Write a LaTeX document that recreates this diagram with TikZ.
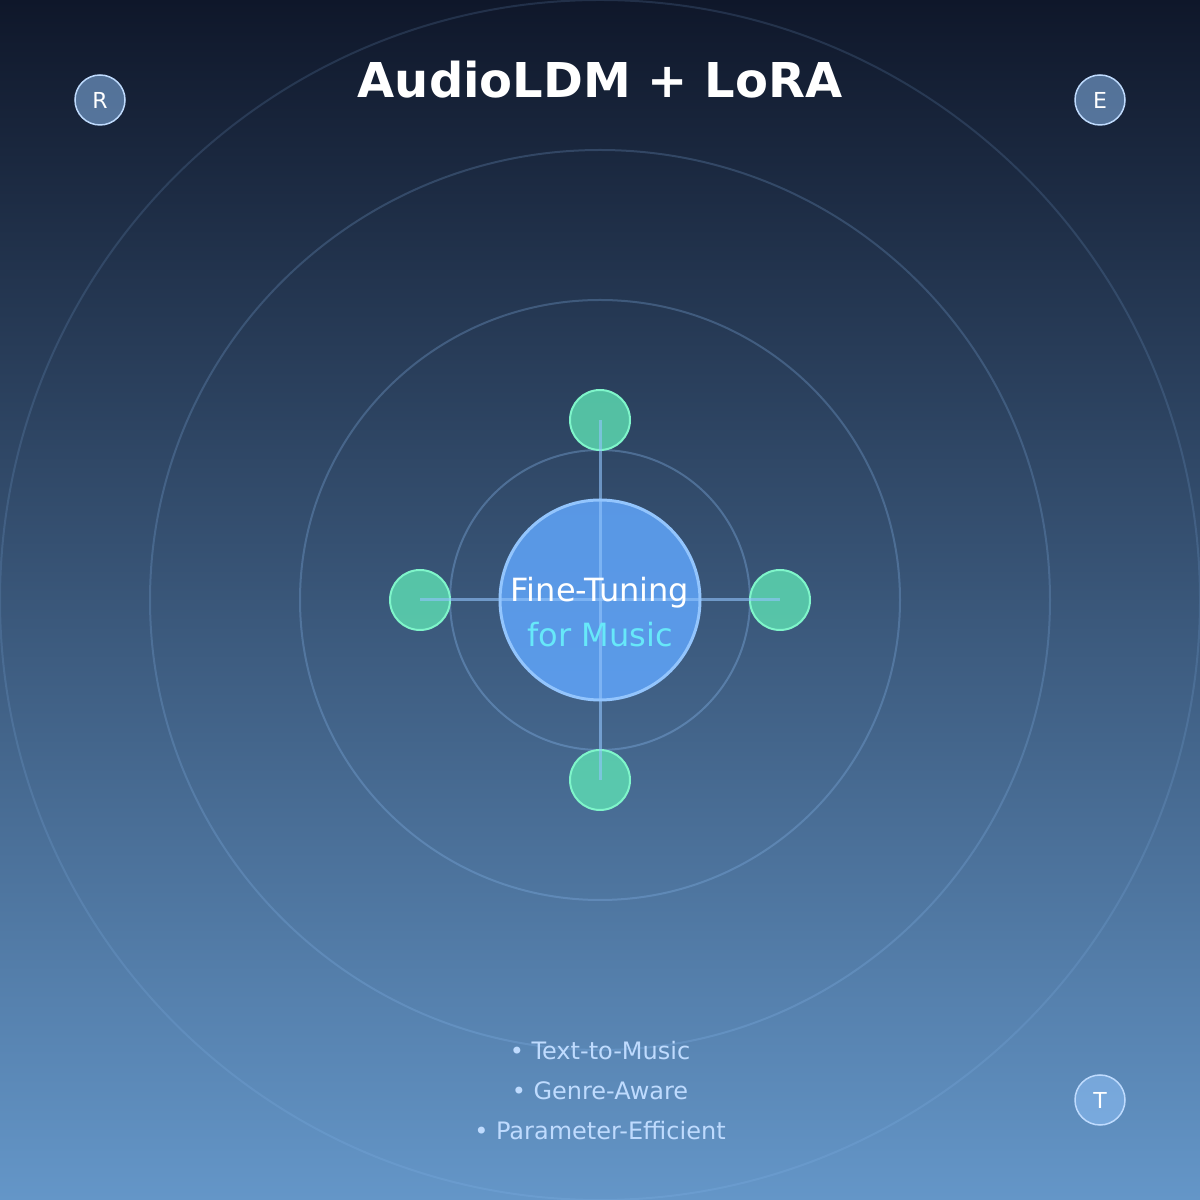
\documentclass[tikz,border=0pt]{standalone}
\usepackage{fontspec}
\setmainfont{DejaVu Sans}
\usetikzlibrary{positioning}

\tikzset{
  ring/.style={draw=ringColor,line width=2pt},
  hubdisc/.style={circle,inner sep=0pt,minimum size=200pt,fill=hubFill,fill opacity=0.85,draw=ringColor,line width=3pt},
  satdisc/.style={circle,inner sep=0pt,minimum size=60pt,fill=satFill,fill opacity=0.8,draw=satEdge,line width=2pt},
  spoke/.style={draw=ringColor,draw opacity=0.6,line width=3pt},
  corner/.style={circle,inner sep=0pt,minimum size=50pt,fill=ringColor,fill opacity=0.5,text opacity=1,draw=paleBlue,line width=1.5pt,text=white,font=\fontsize{22}{26}\selectfont},
  feature/.style={anchor=base,text=paleBlue,font=\fontsize{24}{29}\selectfont}
}

\begin{document}
\begin{tikzpicture}[x=1pt,y=1pt]
\definecolor{topColor}{RGB}{15,23,42}
\definecolor{bottomColor}{RGB}{100,150,200}
\definecolor{ringColor}{HTML}{93C5FD}
\definecolor{paleBlue}{HTML}{BFDBFE}
\definecolor{hubFill}{HTML}{60A5FA}
\definecolor{satFill}{HTML}{5EE0B4}
\definecolor{satEdge}{HTML}{7FF5CA}
\definecolor{musicColor}{HTML}{67E8F9}
\path[use as bounding box,top color=topColor,bottom color=bottomColor] (0,0) rectangle (1200,1200);

% rings
\foreach \r/\op in {150/0.30,300/0.25,450/0.20,600/0.15}
  \draw[ring,draw opacity=\op] (600,600) circle (\r);

% hub and satellites
\node[hubdisc] (hub) at (600,600) {};
\node[satdisc] (top) at (600,780) {};
\node[satdisc] (bottom) at (600,420) {};
\node[satdisc] (left) at (420,600) {};
\node[satdisc] (right) at (780,600) {};

\draw[spoke] (top.center) -- (bottom.center);
\draw[spoke] (left.center) -- (right.center);

\node[anchor=base,text=white,font=\fontsize{32}{38}\selectfont] (hubtop) at (600,598) {Fine-Tuning};
\node[anchor=base,text=musicColor,font=\fontsize{32}{38}\selectfont] (hubsub) at (600,553) {for Music};

% corners
\node[corner] (cR) at (100,1100) {R};
\node[corner] (cE) at (1100,1100) {E};
\node[corner] (cT) at (1100,100) {T};

% title
\node[anchor=base,text=white,font=\fontsize{48}{58}\selectfont\bfseries] (title) at (600,1102) {AudioLDM + LoRA};

% features
\node[feature] (f1) at (600,140) {• Text-to-Music};
\node[feature] (f2) at (600,100) {• Genre-Aware};
\node[feature] (f3) at (600,60) {• Parameter-Efficient};
\end{tikzpicture}
\end{document}
